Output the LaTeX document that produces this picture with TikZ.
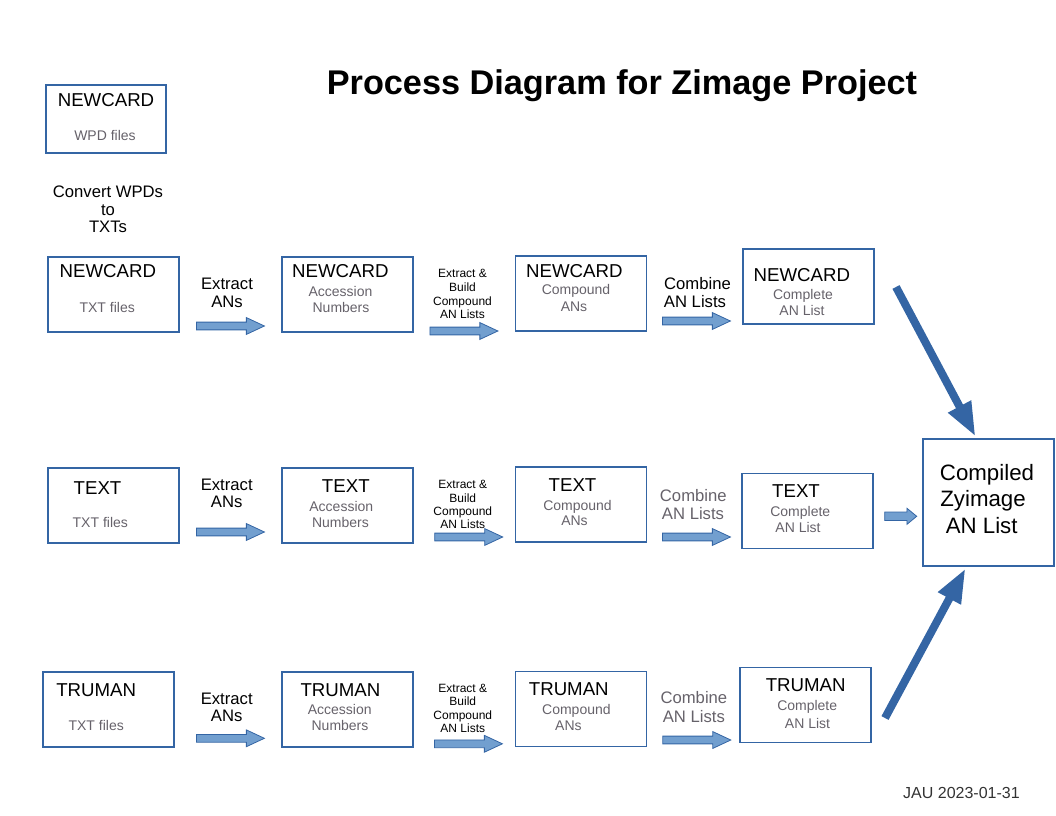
\documentclass[tikz,border=0pt]{standalone}
\usepackage{fontspec}
\setmainfont{Liberation Sans}
\usetikzlibrary{shapes.arrows,arrows.meta,calc}
\definecolor{boxblue}{HTML}{3465A4}
\definecolor{arrfill}{HTML}{729FCF}
\definecolor{subgray}{HTML}{66626A}
\definecolor{jaugray}{HTML}{333333}
\tikzset{
  box/.style={draw=boxblue,line width=0.8pt,inner sep=0pt,minimum width=98.25pt,minimum height=56.25pt},
  hd/.style={font=\fontsize{14}{16}\selectfont,anchor=base,inner sep=0pt},
  sub/.style={font=\fontsize{10.5}{12}\selectfont,text=subgray,anchor=base,inner sep=0pt},
  lab/.style={font=\fontsize{12.5}{14}\selectfont,anchor=base,inner sep=0pt},
  glab/.style={lab,text=subgray},
  sml/.style={font=\fontsize{9}{10}\selectfont,anchor=base,inner sep=0pt},
  blk/.style={single arrow,draw=boxblue,fill=arrfill,line width=0.6pt,inner xsep=0pt,inner ysep=2.6pt,
    text height=0pt,text depth=0pt,anchor=tail,
    minimum height=51pt,single arrow head extend=3.4pt,single arrow tip angle=50},
  bigarrow/.style={draw=boxblue,line width=6pt,-{Triangle[length=25.5pt,width=18pt]}}
}
\begin{document}
\begin{tikzpicture}[x=0.75pt,y=-0.75pt]
\useasboundingbox (0,0) rectangle (1056,816);
% title
\node[font=\bfseries\fontsize{25.7}{30}\selectfont,anchor=base,inner sep=0pt] (title) at (622,95) {Process Diagram for Zimage Project};
% WPD box
\node[box,minimum width=90pt,minimum height=51pt] (wpd) at (106,119) {};
\node[hd] (wpdh) at (106,106.7) {NEWCARD};
\node[sub] (wpds) at (105,141) {WPD files};
\node[lab] (cv1) at (108,197.7) {Convert WPDs};
\node[lab] (cv2) at (108,215.2) {to};
\node[lab] (cv3) at (108,232.7) {TXTs};
% ---------------- Row 1
\node[box] (a1) at (113.5,294.5) {};
\node[hd] (a1h) at (107.8,278) {NEWCARD};
\node[sub] (a1s) at (107.2,313) {TXT files};
\node[lab] (la1) at (227,290) {Extract};
\node[lab] (la1b) at (227,307.7) {ANs};
\node[blk] (ar1a) at (196,326) {};
\node[box] (a2) at (347.5,294.5) {};
\node[hd] (a2h) at (340.4,278) {NEWCARD};
\node[sub] (a2s) at (340.5,297) {Accession};
\node[sub] (a2t) at (341,313) {Numbers};
\node[sml] (lb1a) at (462.5,277.7) {Extract \&};
\node[sml] (lb1b) at (462.5,291.4) {Build};
\node[sml] (lb1c) at (462.5,305.2) {Compound};
\node[sml] (lb1d) at (462.5,319) {AN Lists};
\node[blk] (ar1b) at (429.5,331) {};
\node[box] (a3) at (581,293.5) {};
\node[hd] (a3h) at (574.3,277.7) {NEWCARD};
\node[sub] (a3s) at (576,295) {Compound};
\node[sub] (a3t) at (574,311.7) {ANs};
\node[lab] (lc1a) at (697.5,290) {Combine};
\node[lab] (lc1b) at (695,307.7) {AN Lists};
\node[blk] (ar1c) at (662,321) {};
\node[box] (a4) at (808.5,286.5) {};
\node[hd] (a4h) at (801.8,281.7) {NEWCARD};
\node[sub] (a4s) at (803,299.3) {Complete};
\node[sub] (a4t) at (802,315.3) {AN List};
% ---------------- Row 2
\node[box] (b1) at (113.5,505.5) {};
\node[hd] (b1h) at (97.5,494) {TEXT};
\node[sub] (b1s) at (100.3,527.7) {TXT files};
\node[lab] (la2) at (226.7,490) {Extract};
\node[lab] (la2b) at (226.7,507.7) {ANs};
\node[blk] (ar2a) at (196,532) {};
\node[box] (b2) at (347.5,505.5) {};
\node[hd] (b2h) at (345.8,492.7) {TEXT};
\node[sub] (b2s) at (341.3,511.7) {Accession};
\node[sub] (b2t) at (340.5,527.7) {Numbers};
\node[sml] (lb2a) at (462.8,488.3) {Extract \&};
\node[sml] (lb2b) at (462.8,502) {Build};
\node[sml] (lb2c) at (462.8,515.7) {Compound};
\node[sml] (lb2d) at (462.8,528.3) {AN Lists};
\node[blk] (ar2b) at (434.3,537) {};
\node[box] (b3) at (581,504.5) {};
\node[hd] (b3h) at (572.5,491) {TEXT};
\node[sub] (b3s) at (577.5,510) {Compound};
\node[sub] (b3t) at (574.5,525) {ANs};
\node[glab] (lc2a) at (693.3,501.7) {Combine};
\node[glab] (lc2b) at (693,519.3) {AN Lists};
\node[blk] (ar2c) at (662,537) {};
\node[box] (b4) at (807.5,511) {};
\node[hd] (b4h) at (796,497.7) {TEXT};
\node[sub] (b4s) at (800.3,516.7) {Complete};
\node[sub] (b4t) at (798,532.3) {AN List};
\node[blk,minimum height=24pt,inner ysep=2.9pt,single arrow head extend=2.85pt,single arrow tip angle=79] (ar2d) at (884.3,516.3) {};
% compiled
\node[box,minimum height=95.25pt] (comp) at (988.5,502.5) {};
\node[font=\fontsize{16.7}{20}\selectfont,anchor=base,inner sep=0pt] (cp1) at (987,480) {Compiled};
\node[font=\fontsize{16.7}{20}\selectfont,anchor=base,inner sep=0pt] (cp2) at (983,506.7) {Zyimage};
\node[font=\fontsize{16.7}{20}\selectfont,anchor=base,inner sep=0pt] (cp3) at (981.7,533.3) {AN List};
% ---------------- Row 3
\node[box] (c1) at (108.5,709.5) {};
\node[hd] (c1h) at (96.2,696) {TRUMAN};
\node[sub] (c1s) at (96.2,730.7) {TXT files};
\node[lab] (la3) at (226.7,704) {Extract};
\node[lab] (la3b) at (226.7,721.7) {ANs};
\node[blk] (ar3a) at (196,738.3) {};
\node[box] (c2) at (347.5,709.5) {};
\node[hd] (c2h) at (340.5,696) {TRUMAN};
\node[sub] (c2s) at (339.7,714) {Accession};
\node[sub] (c2t) at (340,730) {Numbers};
\node[sml] (lb3a) at (462.8,692.3) {Extract \&};
\node[sml] (lb3b) at (462.8,705.7) {Build};
\node[sml] (lb3c) at (462.8,719.3) {Compound};
\node[sml] (lb3d) at (462.8,732.7) {AN Lists};
\node[blk] (ar3b) at (434,743.8) {};
\node[box] (c3) at (581,709) {};
\node[hd] (c3h) at (568.8,695.6) {TRUMAN};
\node[sub] (c3s) at (576.4,714.2) {Compound};
\node[sub] (c3t) at (568.4,730.1) {ANs};
\node[glab] (lc3a) at (693.9,703.9) {Combine};
\node[glab] (lc3b) at (693.9,722.2) {AN Lists};
\node[blk] (ar3c) at (662.4,740) {};
\node[box] (c4) at (805.5,705) {};
\node[hd] (c4h) at (805.7,691.1) {TRUMAN};
\node[sub] (c4s) at (807.2,710.8) {Complete};
\node[sub] (c4t) at (807.5,728) {AN List};
% diagonal arrows
\coordinate (d1s) at (896,287);
\coordinate (d1e) at ($(comp.north west)+(53,-2)$);
\coordinate (d2s) at (885,718);
\coordinate (d2e) at ($(comp.south west)+(43,2)$);
\draw[bigarrow] (d1s) -- (d1e);
\draw[bigarrow] (d2s) -- (d2e);
% date
\node[font=\fontsize{12}{14}\selectfont,text=jaugray,anchor=base east,inner sep=0pt] (jau) at (1020,798) {JAU 2023-01-31};
\end{tikzpicture}
\end{document}
